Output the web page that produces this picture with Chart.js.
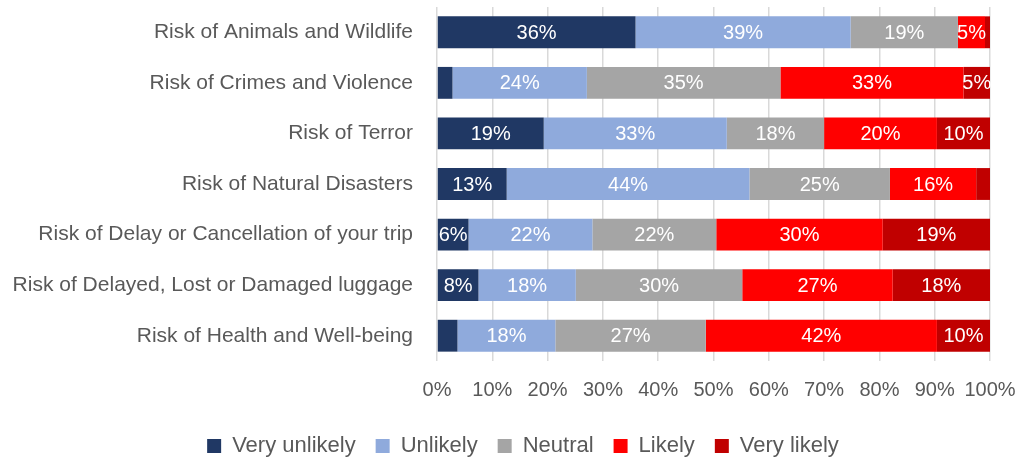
<!DOCTYPE html>
<html>
<head>
<meta charset="utf-8">
<script src="https://cdn.jsdelivr.net/npm/chart.js@4"></script>
<style>
  html, body { margin: 0; padding: 0; background: #fff; }
  #wrap { width: 1019px; height: 459px; }
</style>
</head>
<body>
<div id="wrap"><canvas id="chart" width="1019" height="459"></canvas></div>
<script>
// ===== DATA =====
const CATEGORIES = [
  'Risk of Animals and Wildlife',
  'Risk of Crimes and Violence',
  'Risk of Terror',
  'Risk of Natural Disasters',
  'Risk of Delay or Cancellation of your trip',
  'Risk of Delayed, Lost or Damaged luggage',
  'Risk of Health and Well-being'
];

const SERIES_NAMES = ['Very unlikely', 'Unlikely', 'Neutral', 'Likely', 'Very likely'];

const VERY_UNLIKELY = [35.9, 2.8, 19.3, 12.6, 5.7, 7.5, 3.7];
const UNLIKELY      = [38.9, 24.3, 33.1, 43.9, 22.4, 17.6, 17.7];
const NEUTRAL       = [19.4, 35.0, 17.6, 25.4, 22.4, 30.1, 27.2];
const LIKELY        = [4.9, 33.1, 20.4, 15.6, 30.1, 27.2, 41.8];
const VERY_LIKELY   = [0.9, 4.8, 9.6, 2.5, 19.4, 17.6, 9.6];

const X_TICKS = [0, 10, 20, 30, 40, 50, 60, 70, 80, 90, 100];

// ===== STYLE =====
const COLORS = ['#203864', '#8FAADC', '#A5A5A5', '#FF0000', '#C00000'];
const FONT = "'Liberation Sans', Arial, sans-serif";
const TEXT = '#595959';

// ===== INLINE LABEL PLUGIN =====
const barLabels = {
  id: 'barLabels',
  afterDatasetsDraw(chart) {
    const ctx = chart.ctx;
    ctx.save();
    ctx.fillStyle = '#fff';
    ctx.font = `20px ${FONT}`;
    ctx.textAlign = 'center';
    ctx.textBaseline = 'middle';
    chart.data.datasets.forEach((ds, i) => {
      chart.getDatasetMeta(i).data.forEach((bar, j) => {
        const v = ds.data[j];
        if (v < 4.5) return; // small slices stay unlabeled
        const cx = (bar.x + bar.base) / 2;
        ctx.fillText(Math.round(v) + '%', cx, bar.y + 1);
      });
    });
    ctx.restore();
  }
};

// nudge the legend right so it centres under the whole figure
const legendShift = {
  id: 'legendShift',
  afterLayout(chart) {
    chart.legend.left += 28;
    chart.legend.right += 28;
  }
};

const seriesData = [VERY_UNLIKELY, UNLIKELY, NEUTRAL, LIKELY, VERY_LIKELY];

new Chart(document.getElementById('chart'), {
  type: 'bar',
  data: {
    labels: CATEGORIES,
    datasets: SERIES_NAMES.map((name, i) => ({
      label: name,
      data: seriesData[i],
      backgroundColor: COLORS[i],
      borderWidth: 0,
      barPercentage: 0.63,
      categoryPercentage: 1
    }))
  },
  options: {
    indexAxis: 'y',
    responsive: false,
    animation: false,
    layout: { padding: { top: 7, right: 29, left: 0, bottom: -8 } },
    scales: {
      x: {
        stacked: true,
        min: 0, max: 100,
        afterBuildTicks: s => { s.ticks = X_TICKS.map(v => ({ value: v })); },
        afterFit: s => { s.height = 54; s.paddingLeft = 0; s.paddingRight = 0; },
        grid: { color: '#D9D9D9', lineWidth: 1.5, drawTicks: false },
        border: { display: false },
        ticks: {
          color: TEXT, font: { size: 20, family: FONT }, padding: 17,
          maxRotation: 0, autoSkip: false, callback: v => v + '%'
        }
      },
      y: {
        stacked: true,
        afterFit: s => { s.width = 437; s.paddingTop = 0; s.paddingBottom = 0; },
        grid: { display: false },
        border: { display: false },
        ticks: { color: TEXT, font: { size: 21, family: FONT }, padding: 16 }
      }
    },
    plugins: {
      legend: {
        position: 'bottom',
        labels: { color: TEXT, font: { size: 22, family: FONT }, boxWidth: 14, boxHeight: 14, padding: 20 }
      },
      tooltip: { enabled: false }
    }
  },
  plugins: [barLabels, legendShift]
});
</script>
</body>
</html>
